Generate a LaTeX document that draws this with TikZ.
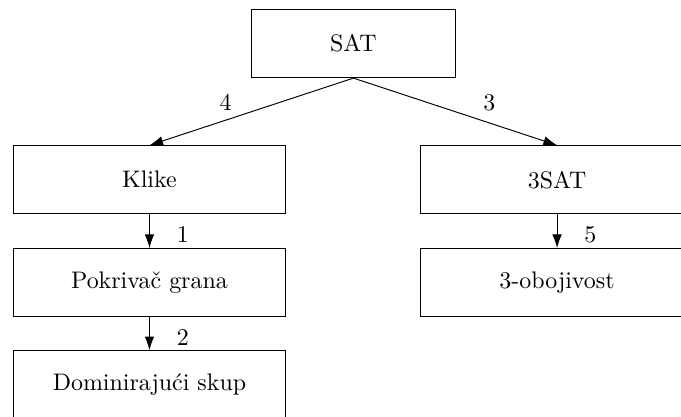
\documentclass[tikz,border=0pt]{standalone}
\usetikzlibrary{arrows.meta}
\begin{document}
\begin{tikzpicture}[
  widebox/.style={draw, minimum width=4cm, minimum height=1cm, inner sep=0pt},
  smallbox/.style={draw, minimum width=3cm, minimum height=1cm, inner sep=0pt},
  conn/.style={-{Latex[length=2mm,width=1.4mm]}, line width=0.4pt}
]
\useasboundingbox (0,0) rectangle (10,-6.109);
\clip (0,0) rectangle (10,-6.109);
\node[smallbox] (sat) at (5.19,-0.64) {SAT};
\node[widebox] (klike) at (2.195,-2.64) {Klike};
\node[widebox] (tsat) at (8.18,-2.64) {3SAT};
\node[widebox] (pokr) at (2.195,-4.15) {Pokriva\v{c} grana};
\node[widebox] (oboj) at (8.18,-4.15) {3-obojivost};
\node[widebox] (domi) at (2.195,-5.65) {Dominiraju\'{c}i skup};
\draw[conn] (sat.south) -- (klike.north) node[midway, xshift=-0.38cm, yshift=0.13cm] (l4) {4};
\draw[conn] (sat.south) -- (tsat.north) node[midway, xshift=0.5cm, yshift=0.13cm] (l3) {3};
\draw[conn] (klike.south) -- (pokr.north) node[midway, xshift=0.49cm, yshift=-0.05cm] (l1) {1};
\draw[conn] (pokr.south) -- (domi.north) node[midway, xshift=0.49cm, yshift=-0.05cm] (l2) {2};
\draw[conn] (tsat.south) -- (oboj.north) node[midway, xshift=0.49cm, yshift=-0.05cm] (l5) {5};
\end{tikzpicture}
\end{document}
